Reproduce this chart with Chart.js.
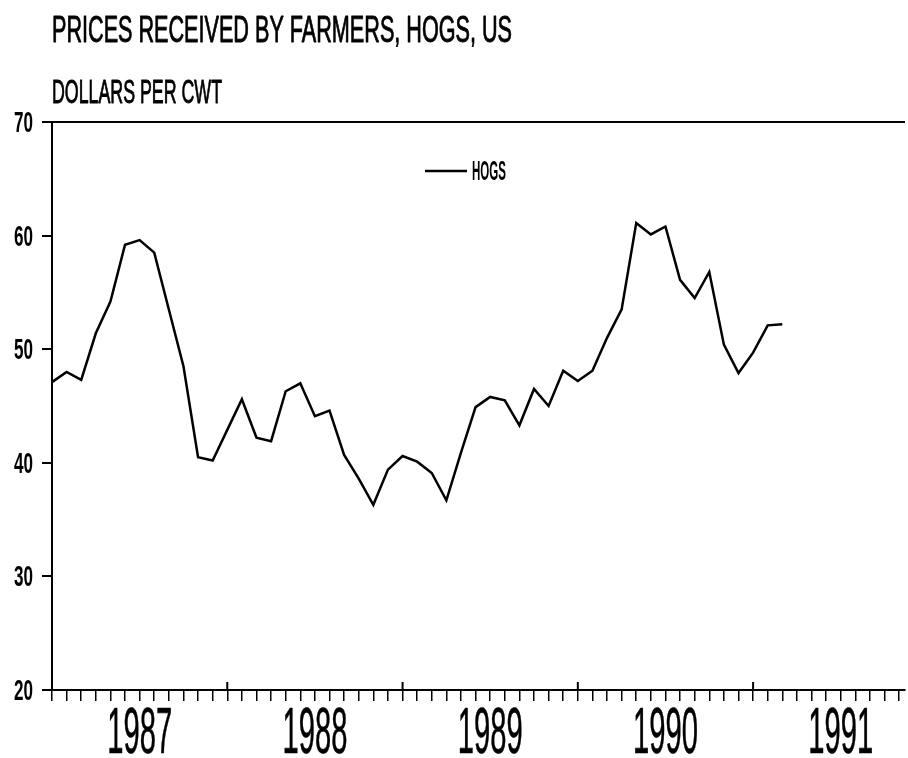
<!DOCTYPE html>
<html>
<head>
<meta charset="utf-8">
<title>Prices received by farmers, hogs, US</title>
<script src="https://cdn.jsdelivr.net/npm/chart.js@4.4.1/dist/chart.umd.min.js"></script>
<style>
    html, body { margin: 0; padding: 0; background: #fff; }
    canvas { display: block; }
</style>
</head>
<body>
<canvas id="hogs-chart" width="908" height="758"></canvas>
<script>
'use strict';

// chart text
const chartTitle = 'PRICES RECEIVED BY FARMERS, HOGS, US';
const unitsLabel = 'DOLLARS PER CWT';
const seriesName = 'HOGS';

// x axis: one label per year, data is monthly starting Jan 1987
const yearLabels = ['1987', '1988', '1989', '1990', '1991'];

// y axis range / tick step
const yMin = 20;
const yMax = 70;
const yStep = 10;

// monthly prices, $/cwt, Jan 1987 .. Mar 1991
const hogPrices = [
    47.1, 48.0, 47.3, 51.4, 54.2, 59.2, 59.6, 58.5, 53.5, 48.5, 40.5, 40.2,
    42.9, 45.6, 42.2, 41.9, 46.3, 47.0, 44.1, 44.6, 40.7, 38.6, 36.3, 39.4,
    40.6, 40.1, 39.1, 36.7, 40.9, 44.9, 45.8, 45.5, 43.3, 46.5, 45.0, 48.1,
    47.2, 48.1, 51.0, 53.5, 61.1, 60.1, 60.8, 56.1, 54.5, 56.8, 50.4, 47.9,
    49.7, 52.1, 52.2
];

const FONT = '"Liberation Sans Narrow", "Liberation Sans", Arial, sans-serif';


/**
 * @description fillText squeezed into maxWidth (plotter lettering is very narrow)
 * @param {Number} pen extra stroke width to thicken regular glyphs a bit
 */
function drawText(ctx, text, x, y, font, maxWidth, align, pen = 0) {
    ctx.font = font;
    ctx.textAlign = align;
    ctx.fillText(text, x, y, maxWidth);
    if (pen > 0) {
        ctx.lineWidth = pen;
        ctx.strokeText(text, x, y, maxWidth);
    }
}


// titles, tick labels, legend and the long year ticks
const plotterText = {
    id: 'plotterText',
    afterDraw(chart) {
        const ctx = chart.ctx;
        const xScale = chart.scales.x;
        const yScale = chart.scales.y;
        const bottom = chart.chartArea.bottom;

        ctx.save();
        ctx.fillStyle = '#000';
        ctx.strokeStyle = '#000';
        ctx.lineJoin = 'round';
        ctx.textBaseline = 'alphabetic';

        drawText(ctx, chartTitle, 52, 42, '36px ' + FONT, 460, 'left', 0.9);
        drawText(ctx, unitsLabel, 52, 103, '33px ' + FONT, 170, 'left', 0.9);

        // y tick labels
        for (const tick of yScale.ticks) {
            let py = yScale.getPixelForValue(tick.value);
            drawText(ctx, String(tick.value), 33, py + 10, 'bold 29px ' + FONT, 19, 'right');
        }

        // year labels centred in each year, cross ticks at year starts
        yearLabels.forEach((label, k) => {
            let px = xScale.getPixelForValue(12 * k + 6);
            drawText(ctx, label, px, 753, '65px ' + FONT, 65, 'center', 0.6);

            let bx = xScale.getPixelForValue(12 * k);
            ctx.lineWidth = 2;
            ctx.beginPath();
            ctx.moveTo(bx, bottom - 8);
            ctx.lineTo(bx, bottom);
            ctx.stroke();
        });

        // legend
        const ds = chart.data.datasets[0];
        ctx.lineWidth = ds.borderWidth;
        ctx.beginPath();
        ctx.moveTo(425, 171);
        ctx.lineTo(467, 171);
        ctx.stroke();
        drawText(ctx, ds.label, 472, 180, 'bold 27px ' + FONT, 34, 'left');

        ctx.restore();
    }
};


(function () {
    const ctx = document.getElementById('hogs-chart').getContext('2d');

    let data = {
        datasets: [{
            label: seriesName,
            data: hogPrices.map((v, i) => ({ x: i, y: v })),
            borderColor: '#000',
            borderWidth: 2.5,
            pointRadius: 0,
            tension: 0,
            fill: false
        }]
    };

    new Chart(ctx, {
        type: 'line',
        data: data,
        plugins: [plotterText],
        options: {
            responsive: false,
            animation: false,
            layout: {
                padding: { top: 122, right: 3, left: 0, bottom: 0 }
            },
            plugins: {
                legend: { display: false },
                tooltip: { enabled: false }
            },
            scales: {
                x: {
                    type: 'linear',
                    min: 0,
                    max: 58.4,
                    ticks: {
                        display: false,
                        stepSize: 1,
                        autoSkip: false,
                        includeBounds: false
                    },
                    grid: {
                        drawOnChartArea: false,
                        color: '#000',
                        tickColor: '#000',
                        tickLength: 11,
                        lineWidth: 1.5
                    },
                    border: { color: '#000', width: 2 },
                    afterFit(scale) {
                        scale.height = 68;
                    }
                },
                y: {
                    min: yMin,
                    max: yMax,
                    ticks: {
                        display: false,
                        stepSize: yStep
                    },
                    grid: {
                        // only the top (70) line runs across the plot
                        color: (c) => (c.tick && c.tick.value === yMax) ? '#000' : 'rgba(0,0,0,0)',
                        tickColor: '#000',
                        tickLength: 10,
                        lineWidth: 2
                    },
                    border: { color: '#000', width: 2 },
                    afterFit(scale) {
                        scale.width = 52;
                    }
                }
            }
        }
    });
})();
</script>
</body>
</html>
